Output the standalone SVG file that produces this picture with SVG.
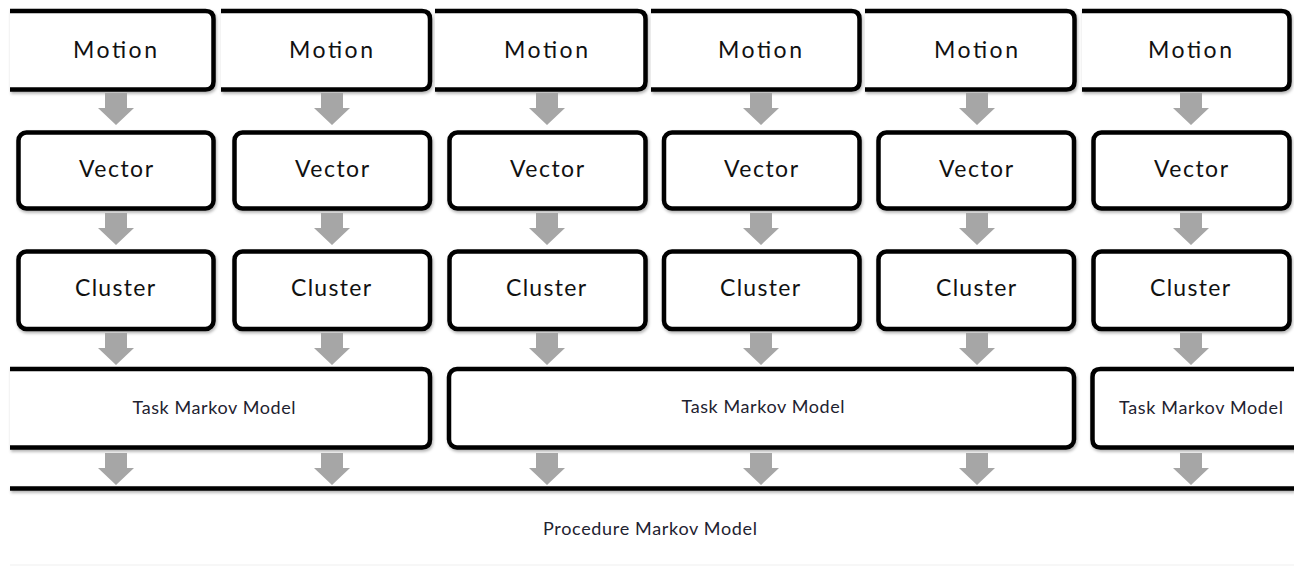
<svg xmlns="http://www.w3.org/2000/svg" width="1294" height="566" viewBox="0 0 1294 566">
  <defs>
    <filter id="shadow" x="-5%" y="-10%" width="110%" height="130%">
      <feDropShadow dx="1" dy="2" stdDeviation="1.5" flood-color="#000" flood-opacity="0.3"/>
    </filter>
    <filter id="barShadow" filterUnits="userSpaceOnUse" x="0" y="480" width="1294" height="20">
      <feDropShadow dx="1" dy="2" stdDeviation="1.5" flood-color="#000" flood-opacity="0.3"/>
    </filter>
    <!-- block arrow pointing down, origin at top centre of the shaft -->
    <polygon id="down" points="-11,0 11,0 11,15 18,15 0,32 -18,15 -11,15"/>
  </defs>
  <style>
    .box { fill: #ffffff; stroke: #000000; stroke-width: 4.5; filter: url(#shadow); }
    .lbl { font-family: Lato, "Open Sans", "Liberation Sans", sans-serif; font-size: 23px; fill: #111111; text-anchor: middle; }
    .sm { font-family: Lato, "Open Sans", "Liberation Sans", sans-serif; font-size: 18px; fill: #1e2230; text-anchor: middle; }
    .arrow { fill: #a6a6a6; }
  </style>

  <rect width="1294" height="566" fill="#ffffff"/>

  <!-- Motion row: boxes open on the left side -->
  <g id="motion-1"><path class="box" d="M10,11 H205.5 Q213.5,11 213.5,19 V81.5 Q213.5,89.5 205.5,89.5 H10"/><text class="lbl" x="115" y="58" textLength="84" lengthAdjust="spacing">Motion</text></g>
  <g id="motion-2"><path class="box" d="M221,11 H422 Q430,11 430,19 V81.5 Q430,89.5 422,89.5 H221"/><text class="lbl" x="331" y="58" textLength="84" lengthAdjust="spacing">Motion</text></g>
  <g id="motion-3"><path class="box" d="M435,11 H637.5 Q645.5,11 645.5,19 V81.5 Q645.5,89.5 637.5,89.5 H435"/><text class="lbl" x="546" y="58" textLength="84" lengthAdjust="spacing">Motion</text></g>
  <g id="motion-4"><path class="box" d="M651,11 H851.5 Q859.5,11 859.5,19 V81.5 Q859.5,89.5 851.5,89.5 H651"/><text class="lbl" x="760" y="58" textLength="84" lengthAdjust="spacing">Motion</text></g>
  <g id="motion-5"><path class="box" d="M865,11 H1066.5 Q1074.5,11 1074.5,19 V81.5 Q1074.5,89.5 1066.5,89.5 H865"/><text class="lbl" x="976" y="58" textLength="84" lengthAdjust="spacing">Motion</text></g>
  <g id="motion-6"><path class="box" d="M1082,11 H1281.5 Q1289.5,11 1289.5,19 V81.5 Q1289.5,89.5 1281.5,89.5 H1082"/><text class="lbl" x="1190" y="58" textLength="84" lengthAdjust="spacing">Motion</text></g>

  <!-- Vector row -->
  <g id="vector-1"><rect class="box" x="18.5" y="132.5" width="195" height="76" rx="8"/><text class="lbl" x="116" y="177" textLength="74" lengthAdjust="spacing">Vector</text></g>
  <g id="vector-2"><rect class="box" x="234.5" y="132.5" width="195.5" height="76" rx="8"/><text class="lbl" x="332" y="177" textLength="74" lengthAdjust="spacing">Vector</text></g>
  <g id="vector-3"><rect class="box" x="449.5" y="132.5" width="196" height="76" rx="8"/><text class="lbl" x="547" y="177" textLength="74" lengthAdjust="spacing">Vector</text></g>
  <g id="vector-4"><rect class="box" x="664" y="132.5" width="195.5" height="76" rx="8"/><text class="lbl" x="761" y="177" textLength="74" lengthAdjust="spacing">Vector</text></g>
  <g id="vector-5"><rect class="box" x="878.5" y="132.5" width="195.5" height="76" rx="8"/><text class="lbl" x="976" y="177" textLength="74" lengthAdjust="spacing">Vector</text></g>
  <g id="vector-6"><rect class="box" x="1093.5" y="132.5" width="196" height="76" rx="8"/><text class="lbl" x="1191" y="177" textLength="74" lengthAdjust="spacing">Vector</text></g>

  <!-- Cluster row -->
  <g id="cluster-1"><rect class="box" x="18.5" y="251.5" width="195" height="77.5" rx="8"/><text class="lbl" x="115" y="296" textLength="80" lengthAdjust="spacing">Cluster</text></g>
  <g id="cluster-2"><rect class="box" x="234.5" y="251.5" width="195.5" height="77.5" rx="8"/><text class="lbl" x="331" y="296" textLength="80" lengthAdjust="spacing">Cluster</text></g>
  <g id="cluster-3"><rect class="box" x="449.5" y="251.5" width="196" height="77.5" rx="8"/><text class="lbl" x="546" y="296" textLength="80" lengthAdjust="spacing">Cluster</text></g>
  <g id="cluster-4"><rect class="box" x="664" y="251.5" width="195.5" height="77.5" rx="8"/><text class="lbl" x="760" y="296" textLength="80" lengthAdjust="spacing">Cluster</text></g>
  <g id="cluster-5"><rect class="box" x="878.5" y="251.5" width="195.5" height="77.5" rx="8"/><text class="lbl" x="976" y="296" textLength="80" lengthAdjust="spacing">Cluster</text></g>
  <g id="cluster-6"><rect class="box" x="1093.5" y="251.5" width="196" height="77.5" rx="8"/><text class="lbl" x="1190" y="296" textLength="80" lengthAdjust="spacing">Cluster</text></g>

  <!-- Task Markov Model row -->
  <g id="task-1"><path class="box" d="M10,369 H422 Q430,369 430,377 V439.5 Q430,447.5 422,447.5 H10"/><text class="sm" x="214" y="414" textLength="163" lengthAdjust="spacing">Task Markov Model</text></g>
  <g id="task-2"><rect class="box" x="449" y="369" width="625" height="78.5" rx="8"/><text class="sm" x="763" y="413" textLength="163" lengthAdjust="spacing">Task Markov Model</text></g>
  <g id="task-3"><path class="box" d="M1310,369 H1100.5 Q1092.5,369 1092.5,377 V439.5 Q1092.5,447.5 1100.5,447.5 H1310"/><text class="sm" x="1201" y="414" textLength="164" lengthAdjust="spacing">Task Markov Model</text></g>

  <!-- Procedure Markov Model: open band below the bar -->
  <g id="procedure">
    <rect x="10" y="486.25" width="1284" height="4.5" fill="#000000" filter="url(#barShadow)"/>
    <rect x="10" y="564.5" width="1284" height="1" fill="#f0f0f0"/>
    <text class="sm" x="650" y="535" textLength="214" lengthAdjust="spacing">Procedure Markov Model</text>
  </g>

  <!-- connectors: block arrows between the rows -->
  <g id="connectors" class="arrow">
    <use href="#down" x="116" y="93"/><use href="#down" x="332" y="93"/><use href="#down" x="547" y="93"/>
    <use href="#down" x="761" y="93"/><use href="#down" x="977" y="93"/><use href="#down" x="1191" y="93"/>
    <use href="#down" x="116" y="213"/><use href="#down" x="332" y="213"/><use href="#down" x="547" y="213"/>
    <use href="#down" x="761" y="213"/><use href="#down" x="977" y="213"/><use href="#down" x="1191" y="213"/>
    <use href="#down" x="116" y="333"/><use href="#down" x="332" y="333"/><use href="#down" x="547" y="333"/>
    <use href="#down" x="761" y="333"/><use href="#down" x="977" y="333"/><use href="#down" x="1191" y="333"/>
    <use href="#down" x="116" y="453"/><use href="#down" x="332" y="453"/><use href="#down" x="547" y="453"/>
    <use href="#down" x="761" y="453"/><use href="#down" x="977" y="453"/><use href="#down" x="1191" y="453"/>
  </g>
</svg>
